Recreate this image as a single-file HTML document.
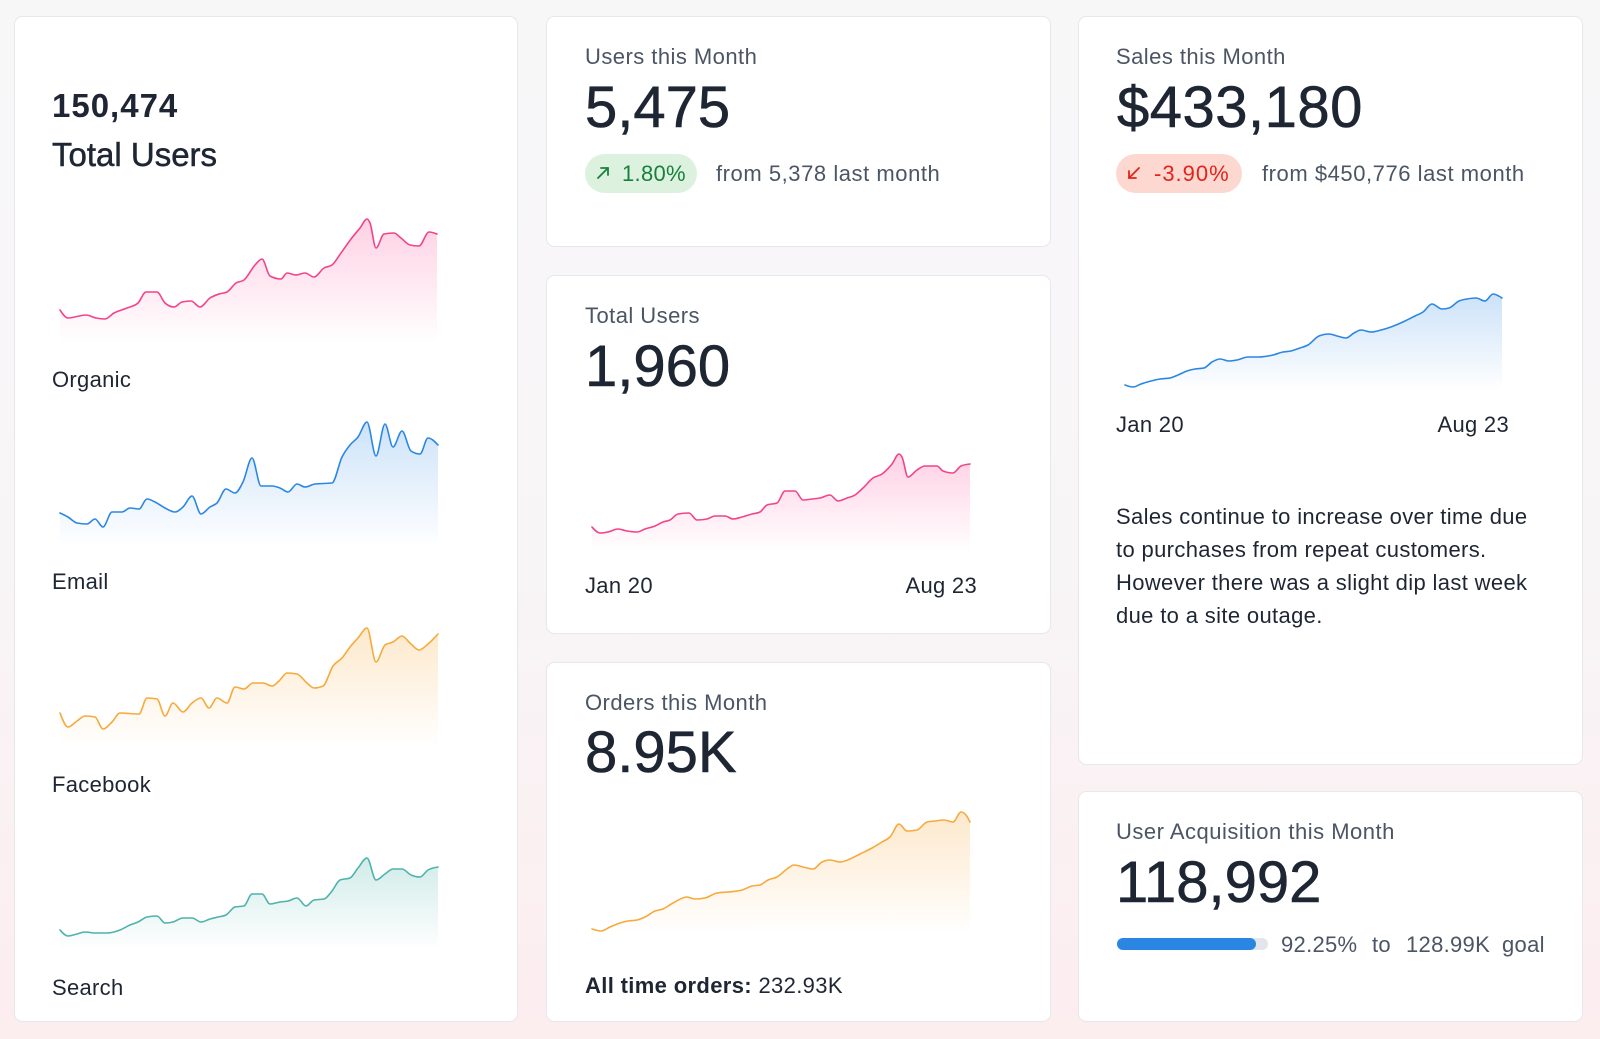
<!DOCTYPE html>
<html>
<head>
<meta charset="utf-8">
<style>
  html,body{margin:0;padding:0;width:1600px;height:1039px;overflow:hidden;background:#f7f7f8;}
  svg{display:block;}
  text{font-family:"Liberation Sans",Arial,sans-serif;}
</style>
</head>
<body>
<svg width="1600" height="1039" viewBox="0 0 1600 1039" xmlns="http://www.w3.org/2000/svg">
  <defs>
    <linearGradient id="bg" x1="0" y1="0" x2="0" y2="1">
      <stop offset="0" stop-color="#f7f7f8"/>
      <stop offset="0.55" stop-color="#f8f5f7"/>
      <stop offset="1" stop-color="#fcedef"/>
    </linearGradient>
    <linearGradient id="gOrg" gradientUnits="userSpaceOnUse" x1="0" y1="218" x2="0" y2="343">
      <stop offset="0" stop-color="#ff3d8b" stop-opacity="0.24"/>
      <stop offset="1" stop-color="#ff3d8b" stop-opacity="0"/>
    </linearGradient>
    <linearGradient id="gEm" gradientUnits="userSpaceOnUse" x1="0" y1="421" x2="0" y2="547">
      <stop offset="0" stop-color="#2b87e3" stop-opacity="0.24"/>
      <stop offset="1" stop-color="#2b87e3" stop-opacity="0"/>
    </linearGradient>
    <linearGradient id="gFb" gradientUnits="userSpaceOnUse" x1="0" y1="628" x2="0" y2="747">
      <stop offset="0" stop-color="#f7a93b" stop-opacity="0.26"/>
      <stop offset="1" stop-color="#f7a93b" stop-opacity="0"/>
    </linearGradient>
    <linearGradient id="gSe" gradientUnits="userSpaceOnUse" x1="0" y1="858" x2="0" y2="950">
      <stop offset="0" stop-color="#4db3ab" stop-opacity="0.26"/>
      <stop offset="1" stop-color="#4db3ab" stop-opacity="0"/>
    </linearGradient>
    <linearGradient id="gTu" gradientUnits="userSpaceOnUse" x1="0" y1="454" x2="0" y2="552">
      <stop offset="0" stop-color="#ff3d8b" stop-opacity="0.24"/>
      <stop offset="1" stop-color="#ff3d8b" stop-opacity="0"/>
    </linearGradient>
    <linearGradient id="gOr" gradientUnits="userSpaceOnUse" x1="0" y1="812" x2="0" y2="934">
      <stop offset="0" stop-color="#f7a93b" stop-opacity="0.26"/>
      <stop offset="1" stop-color="#f7a93b" stop-opacity="0"/>
    </linearGradient>
    <linearGradient id="gSa" gradientUnits="userSpaceOnUse" x1="0" y1="294" x2="0" y2="391">
      <stop offset="0" stop-color="#2b87e3" stop-opacity="0.24"/>
      <stop offset="1" stop-color="#2b87e3" stop-opacity="0"/>
    </linearGradient>
  </defs>

  <rect x="0" y="0" width="1600" height="1039" fill="url(#bg)"/>

  <!-- Cards -->
  <g fill="#ffffff" stroke="#e6e8ec" stroke-width="1">
    <rect x="14.5" y="16.5" width="503" height="1005" rx="8"/>
    <rect x="546.5" y="16.5" width="504" height="230" rx="8"/>
    <rect x="546.5" y="275.5" width="504" height="358" rx="8"/>
    <rect x="546.5" y="662.5" width="504" height="359" rx="8"/>
    <rect x="1078.5" y="16.5" width="504" height="748" rx="8"/>
    <rect x="1078.5" y="791.5" width="504" height="230" rx="8"/>
  </g>

  <!-- LEFT CARD -->
  <text x="52" y="117" font-size="33" font-weight="bold" fill="#1f2633" letter-spacing="1">150,474</text>
  <text x="52" y="166" font-size="33" fill="#1f2633" stroke="#1f2633" stroke-width="0.5">Total Users</text>

  <!-- Organic -->
  <path class="sf" fill="url(#gOrg)" d="M60,310 L68,318 L86,315 L96,318 L105,319 L114,313 L127,308 L138,303 L146,292 L157,292 L165,303 L174,307 L182,302 L191,301 L200,307 L210,298 L219,294 L227,292 L236,283 L244,280 L255,265 L262,259 L270,276 L281,279 L287,273 L296,275 L305,273 L314,277 L324,268 L332,265 L341,253 L351,239 L360,228 L367,219 L370,223 L376,248 L384,234 L394,233 L401,238 L410,245 L419,246 L429,232 L437,234 L437,343 L60,343 Z"/>
  <path class="sl" fill="none" stroke="#f2448a" stroke-width="1.6" stroke-linejoin="round" stroke-linecap="round" d="M60,310 L68,318 L86,315 L96,318 L105,319 L114,313 L127,308 L138,303 L146,292 L157,292 L165,303 L174,307 L182,302 L191,301 L200,307 L210,298 L219,294 L227,292 L236,283 L244,280 L255,265 L262,259 L270,276 L281,279 L287,273 L296,275 L305,273 L314,277 L324,268 L332,265 L341,253 L351,239 L360,228 L367,219 L370,223 L376,248 L384,234 L394,233 L401,238 L410,245 L419,246 L429,232 L437,234"/>
  <text x="52" y="387" font-size="22" fill="#1f2633" letter-spacing="0.3">Organic</text>

  <!-- Email -->
  <path class="sf" fill="url(#gEm)" d="M60,513 L68,517 L77,523 L87,524 L95,519 L103,527 L112,512 L122,512 L130,508 L139,509 L147,499 L155,502 L165,508 L175,512 L183,507 L192,496 L201,514 L210,507 L217,503 L226,489 L235,493 L243,482 L252,458 L261,486 L272,486 L280,488 L288,492 L297,484 L305,487 L315,484 L332,483 L342,457 L350,445 L358,437 L367,422 L376,456 L385,424 L393,447 L402,431 L411,451 L420,454 L428,438 L438,445 L438,547 L60,547 Z"/>
  <path class="sl" fill="none" stroke="#2b87e3" stroke-width="1.6" stroke-linejoin="round" stroke-linecap="round" d="M60,513 L68,517 L77,523 L87,524 L95,519 L103,527 L112,512 L122,512 L130,508 L139,509 L147,499 L155,502 L165,508 L175,512 L183,507 L192,496 L201,514 L210,507 L217,503 L226,489 L235,493 L243,482 L252,458 L261,486 L272,486 L280,488 L288,492 L297,484 L305,487 L315,484 L332,483 L342,457 L350,445 L358,437 L367,422 L376,456 L385,424 L393,447 L402,431 L411,451 L420,454 L428,438 L438,445"/>
  <text x="52" y="589" font-size="22" fill="#1f2633" letter-spacing="0.3">Email</text>

  <!-- Facebook -->
  <path class="sf" fill="url(#gFb)" d="M60,713 L68,727 L77,721 L85,716 L95,717 L103,729 L112,722 L120,713 L139,714 L147,698 L157,699 L165,716 L173,703 L183,712 L192,703 L201,698 L209,708 L217,698 L227,703 L235,687 L244,689 L253,683 L263,683 L272,686 L279,681 L287,673 L297,674 L307,683 L314,688 L323,686 L333,666 L342,658 L350,647 L358,638 L367,628 L376,662 L385,645 L393,642 L402,636 L410,643 L419,650 L428,644 L438,634 L438,747 L60,747 Z"/>
  <path class="sl" fill="none" stroke="#f7a93b" stroke-width="1.6" stroke-linejoin="round" stroke-linecap="round" d="M60,713 L68,727 L77,721 L85,716 L95,717 L103,729 L112,722 L120,713 L139,714 L147,698 L157,699 L165,716 L173,703 L183,712 L192,703 L201,698 L209,708 L217,698 L227,703 L235,687 L244,689 L253,683 L263,683 L272,686 L279,681 L287,673 L297,674 L307,683 L314,688 L323,686 L333,666 L342,658 L350,647 L358,638 L367,628 L376,662 L385,645 L393,642 L402,636 L410,643 L419,650 L428,644 L438,634"/>
  <text x="52" y="792" font-size="22" fill="#1f2633" letter-spacing="0.3">Facebook</text>

  <!-- Search -->
  <path class="sf" fill="url(#gSe)" d="M60,930 L68,936 L77,934 L85,932 L95,933 L107,933 L120,930 L130,925 L138,922 L147,917 L157,916 L165,923 L173,922 L183,918 L192,918 L201,922 L210,919 L218,917 L226,915 L235,907 L244,906 L252,894 L262,894 L270,904 L280,902 L288,901 L297,898 L306,906 L314,900 L324,899 L332,891 L340,880 L350,878 L358,868 L367,858 L376,880 L385,874 L393,869 L402,869 L411,875 L420,877 L428,870 L438,867 L438,950 L60,950 Z"/>
  <path class="sl" fill="none" stroke="#4db3ab" stroke-width="1.6" stroke-linejoin="round" stroke-linecap="round" d="M60,930 L68,936 L77,934 L85,932 L95,933 L107,933 L120,930 L130,925 L138,922 L147,917 L157,916 L165,923 L173,922 L183,918 L192,918 L201,922 L210,919 L218,917 L226,915 L235,907 L244,906 L252,894 L262,894 L270,904 L280,902 L288,901 L297,898 L306,906 L314,900 L324,899 L332,891 L340,880 L350,878 L358,868 L367,858 L376,880 L385,874 L393,869 L402,869 L411,875 L420,877 L428,870 L438,867"/>
  <text x="52" y="995" font-size="22" fill="#1f2633" letter-spacing="0.3">Search</text>

  <!-- MIDDLE CARD 1 -->
  <text x="585" y="64" font-size="22" fill="#4b5563" letter-spacing="0.45">Users this Month</text>
  <text x="585" y="127" font-size="58" fill="#1f2633" stroke="#1f2633" stroke-width="0.6">5,475</text>
  <rect x="585" y="154" width="112" height="39" rx="19.5" fill="#dcf2df"/>
  <g stroke="#18803c" stroke-width="1.8" fill="none" stroke-linecap="round" stroke-linejoin="round">
    <line x1="598" y1="178" x2="608" y2="168"/>
    <polyline points="601,168 608,168 608,175"/>
  </g>
  <text x="622" y="181" font-size="22" fill="#18803c" letter-spacing="0.3">1.80%</text>
  <text x="716" y="181" font-size="22" fill="#4b5563" letter-spacing="0.55">from 5,378 last month</text>

  <!-- MIDDLE CARD 2 -->
  <text x="585" y="323" font-size="22" fill="#4b5563" letter-spacing="0.45">Total Users</text>
  <text x="585" y="386" font-size="58" fill="#1f2633" stroke="#1f2633" stroke-width="0.6">1,960</text>
  <path class="sf" fill="url(#gTu)" d="M592,527 L600,533 L608,532 L618,529 L627,531 L637,532 L645,529 L655,526 L663,522 L670,520 L678,514 L689,513 L697,520 L707,519 L715,516 L725,516 L733,519 L742,517 L752,514 L760,512 L767,505 L777,503 L785,491 L795,491 L803,500 L812,499 L820,498 L830,495 L838,501 L847,498 L855,495 L863,488 L873,478 L882,474 L892,464 L899,454 L902,457 L908,477 L917,470 L925,466 L937,466 L943,471 L953,473 L961,466 L970,464 L970,552 L592,552 Z"/>
  <path class="sl" fill="none" stroke="#f2448a" stroke-width="1.6" stroke-linejoin="round" stroke-linecap="round" d="M592,527 L600,533 L608,532 L618,529 L627,531 L637,532 L645,529 L655,526 L663,522 L670,520 L678,514 L689,513 L697,520 L707,519 L715,516 L725,516 L733,519 L742,517 L752,514 L760,512 L767,505 L777,503 L785,491 L795,491 L803,500 L812,499 L820,498 L830,495 L838,501 L847,498 L855,495 L863,488 L873,478 L882,474 L892,464 L899,454 L902,457 L908,477 L917,470 L925,466 L937,466 L943,471 L953,473 L961,466 L970,464"/>
  <text x="585" y="593" font-size="22" fill="#1f2633" letter-spacing="0.3">Jan 20</text>
  <text x="977" y="593" font-size="22" fill="#1f2633" text-anchor="end" letter-spacing="0.3">Aug 23</text>

  <!-- MIDDLE CARD 3 -->
  <text x="585" y="710" font-size="22" fill="#4b5563" letter-spacing="0.45">Orders this Month</text>
  <text x="585" y="772" font-size="58" fill="#1f2633" stroke="#1f2633" stroke-width="0.6">8.95K</text>
  <path class="sf" fill="url(#gOr)" d="M592,929 L601,931 L610,927 L620,923 L628,921 L637,920 L645,917 L655,911 L663,909 L673,903 L687,897 L695,899 L705,898 L717,893 L728,892 L742,890 L752,886 L760,885 L768,880 L777,877 L787,869 L794,865 L803,867 L813,869 L822,862 L830,860 L840,862 L850,859 L860,854 L872,848 L882,842 L890,837 L899,824 L907,831 L917,830 L927,822 L935,821 L944,820 L953,822 L961,812 L966,815 L970,822 L970,934 L592,934 Z"/>
  <path class="sl" fill="none" stroke="#f7a93b" stroke-width="1.6" stroke-linejoin="round" stroke-linecap="round" d="M592,929 L601,931 L610,927 L620,923 L628,921 L637,920 L645,917 L655,911 L663,909 L673,903 L687,897 L695,899 L705,898 L717,893 L728,892 L742,890 L752,886 L760,885 L768,880 L777,877 L787,869 L794,865 L803,867 L813,869 L822,862 L830,860 L840,862 L850,859 L860,854 L872,848 L882,842 L890,837 L899,824 L907,831 L917,830 L927,822 L935,821 L944,820 L953,822 L961,812 L966,815 L970,822"/>
  <text x="585" y="993" font-size="22" fill="#1f2633" letter-spacing="0.35"><tspan font-weight="bold">All time orders:</tspan> 232.93K</text>

  <!-- RIGHT CARD 1 -->
  <text x="1116" y="64" font-size="22" fill="#4b5563" letter-spacing="0.45">Sales this Month</text>
  <text x="1117" y="127" font-size="58" fill="#1f2633" stroke="#1f2633" stroke-width="0.6" letter-spacing="0.5">$433,180</text>
  <rect x="1116" y="154" width="126" height="39" rx="19.5" fill="#fdd8d0"/>
  <g stroke="#e3241b" stroke-width="1.8" fill="none" stroke-linecap="round" stroke-linejoin="round">
    <line x1="1139" y1="168" x2="1129" y2="178"/>
    <polyline points="1129,171 1129,178 1136,178"/>
  </g>
  <text x="1154" y="181" font-size="22" fill="#e3241b" letter-spacing="1">-3.90%</text>
  <text x="1262" y="181" font-size="22" fill="#4b5563" letter-spacing="0.55">from $450,776 last month</text>
  <path class="sf" fill="url(#gSa)" d="M1125,385 L1133,387 L1141,384 L1151,381 L1160,379 L1170,378 L1178,375 L1187,371 L1195,369 L1204,368 L1212,362 L1220,359 L1229,361 L1237,360 L1248,357 L1258,357 L1273,355 L1283,352 L1291,351 L1300,348 L1308,345 L1319,336 L1329,334 L1337,336 L1346,338 L1354,333 L1361,330 L1371,332 L1381,330 L1388,328 L1396,325 L1405,321 L1415,316 L1423,312 L1432,304 L1442,309 L1449,308 L1459,301 L1467,299 L1476,298 L1485,301 L1493,294 L1502,298 L1502,391 L1125,391 Z"/>
  <path class="sl" fill="none" stroke="#2b87e3" stroke-width="1.6" stroke-linejoin="round" stroke-linecap="round" d="M1125,385 L1133,387 L1141,384 L1151,381 L1160,379 L1170,378 L1178,375 L1187,371 L1195,369 L1204,368 L1212,362 L1220,359 L1229,361 L1237,360 L1248,357 L1258,357 L1273,355 L1283,352 L1291,351 L1300,348 L1308,345 L1319,336 L1329,334 L1337,336 L1346,338 L1354,333 L1361,330 L1371,332 L1381,330 L1388,328 L1396,325 L1405,321 L1415,316 L1423,312 L1432,304 L1442,309 L1449,308 L1459,301 L1467,299 L1476,298 L1485,301 L1493,294 L1502,298"/>
  <text x="1116" y="432" font-size="22" fill="#1f2633" letter-spacing="0.3">Jan 20</text>
  <text x="1509" y="432" font-size="22" fill="#1f2633" text-anchor="end" letter-spacing="0.3">Aug 23</text>

  <g font-size="22" fill="#1f2633" letter-spacing="0.35">
    <text x="1116" y="524">Sales continue to increase over time due</text>
    <text x="1116" y="557">to purchases from repeat customers.</text>
    <text x="1116" y="590">However there was a slight dip last week</text>
    <text x="1116" y="623">due to a site outage.</text>
  </g>

  <!-- RIGHT CARD 2 -->
  <text x="1116" y="839" font-size="22" fill="#4b5563" letter-spacing="0.5">User Acquisition this Month</text>
  <text x="1116" y="902" font-size="58" fill="#1f2633" stroke="#1f2633" stroke-width="0.6">118,992</text>
  <rect x="1117" y="938" width="151" height="12" rx="6" fill="#e2e6ec"/>
  <rect x="1117" y="938" width="139" height="12" rx="6" fill="#2a86e2"/>
  <g font-size="22" fill="#4b5563" letter-spacing="0.3">
    <text x="1281" y="952">92.25%</text>
    <text x="1372" y="952">to</text>
    <text x="1406" y="952">128.99K</text>
    <text x="1502" y="952">goal</text>
  </g>
</svg>
<script>
(function(){
  function parse(d){
    var n=d.match(/-?\d+(\.\d+)?/g).map(Number),p=[];
    for(var i=0;i+1<n.length;i+=2)p.push([n[i],n[i+1]]);
    return p;
  }
  function sgn(x){return x<0?-1:1;}
  function mono(pts){
    var n=pts.length,t=new Array(n),s=[],h=[],i;
    for(i=0;i<n-1;i++){h[i]=pts[i+1][0]-pts[i][0];s[i]=(pts[i+1][1]-pts[i][1])/h[i];}
    for(i=1;i<n-1;i++){
      var s0=s[i-1],s1=s[i],h0=h[i-1],h1=h[i];
      var p=(s0*h1+s1*h0)/(h0+h1);
      t[i]=(sgn(s0)+sgn(s1))*Math.min(Math.abs(s0),Math.abs(s1),0.5*Math.abs(p))||0;
    }
    t[0]=(3*s[0]-t[1])/2;
    t[n-1]=(3*s[n-2]-t[n-2])/2;
    var d='M'+pts[0][0]+','+pts[0][1];
    for(i=0;i<n-1;i++){
      var dx=h[i]/3;
      d+=' C'+(pts[i][0]+dx).toFixed(2)+','+(pts[i][1]+dx*t[i]).toFixed(2)+' '+(pts[i+1][0]-dx).toFixed(2)+','+(pts[i+1][1]-dx*t[i+1]).toFixed(2)+' '+pts[i+1][0]+','+pts[i+1][1];
    }
    return d;
  }
  try{
    var ls=document.querySelectorAll('path.sl');
    for(var i=0;i<ls.length;i++){ls[i].setAttribute('d',mono(parse(ls[i].getAttribute('d'))));}
    var fs=document.querySelectorAll('path.sf');
    for(var j=0;j<fs.length;j++){
      var pts=parse(fs[j].getAttribute('d'));
      var line=pts.slice(0,pts.length-2),a=pts[pts.length-2],b=pts[pts.length-1];
      fs[j].setAttribute('d',mono(line)+' L'+a[0]+','+a[1]+' L'+b[0]+','+b[1]+' Z');
    }
  }catch(e){}
})();
</script>
</body>
</html>
